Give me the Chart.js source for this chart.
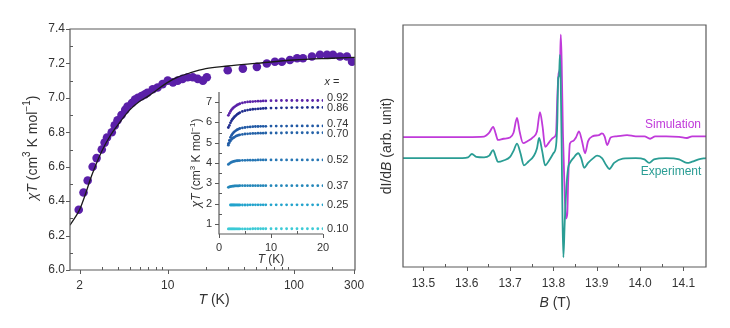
<!DOCTYPE html>
<html>
<head>
<meta charset="utf-8">
<script src="https://cdn.jsdelivr.net/npm/chart.js@4"></script>
<style>
    body { margin: 0; background: #fff; }
    #wrap { position: relative; width: 730px; height: 328px; overflow: hidden; }
    canvas { position: absolute; }
</style>
</head>
<body>
<div id="wrap">
    <canvas id="mainChart" width="365" height="328" style="left:0;top:0"></canvas>
    <canvas id="insetChart" width="190" height="195" style="left:170px;top:75px"></canvas>
    <canvas id="eprChart" width="365" height="328" style="left:365px;top:0"></canvas>
</div>
<script>
// @ts-check

// left panel: chiT vs T (log axis)
const mainT = [1.97, 2.15, 2.32, 2.54, 2.73, 3.0, 3.16, 3.3, 3.6, 3.8, 4.0, 4.3, 4.6, 4.8, 5.2, 5.5, 5.8, 6.2, 6.6, 6.9,
    7.6, 8.3, 9.1, 10, 11, 12, 13.1, 14.4, 15.8, 17.3, 19, 20.4, 29.9, 39.4, 50.9, 61, 70.7, 80.3, 93, 106,
    118, 139, 161, 183, 204, 232, 263, 289];
const mainChiT = [6.35, 6.45, 6.52, 6.6, 6.65, 6.70, 6.74, 6.77, 6.80, 6.84, 6.87, 6.90, 6.93, 6.95, 6.97, 6.99, 7.00, 7.01, 7.02, 7.03,
    7.05, 7.06, 7.08, 7.10, 7.09, 7.10, 7.11, 7.12, 7.12, 7.11, 7.10, 7.12, 7.16, 7.17, 7.18, 7.20, 7.21, 7.21, 7.22, 7.23,
    7.23, 7.24, 7.25, 7.25, 7.25, 7.24, 7.24, 7.21];
const fitT = [1.68, 2, 2.2, 2.5, 3, 3.5, 4, 5, 6, 7, 8, 10, 12, 15, 20, 30, 50, 100, 200, 305];
const fitChiT = [6.26, 6.35, 6.43, 6.55, 6.69, 6.78, 6.84, 6.93, 6.98, 7.01, 7.04, 7.09, 7.12, 7.145, 7.17, 7.185, 7.20, 7.22, 7.23, 7.235];
const mainXTicks = [2, 10, 100, 300];
const mainXMinor = [3, 4, 5, 6, 7, 8, 9, 20, 30, 40, 50, 60, 70, 80, 90, 200];
const mainYTicks = [6.0, 6.2, 6.4, 6.6, 6.8, 7.0, 7.2, 7.4];
const mainYMinor = [6.1, 6.3, 6.5, 6.7, 6.9, 7.1, 7.3];

// inset: chiT vs T for the different x
const insetT = [1.8, 2, 2.2, 2.4, 2.6, 2.8, 3, 3.25, 3.5, 3.75, 4, 4.5, 5, 5.5, 6, 6.5, 7, 7.5, 8, 8.5, 9,
    10, 11, 12, 13, 14, 15, 16, 17, 18, 19, 20];
const insetLabels = ['0.92', '0.86', '0.74', '0.70', '0.52', '0.37', '0.25', '0.10'];
const insetColors = ['#5a22a8', '#1f2d8e', '#1f58a4', '#2462a8', '#2676b4', '#2386b9', '#22a3cc', '#3ccad6'];
const x092 = [6.35, 6.45, 6.54, 6.62, 6.68, 6.73, 6.77, 6.82, 6.86, 6.89, 6.92, 6.96, 6.99, 7.01, 7.02, 7.03, 7.04, 7.05, 7.05, 7.06, 7.06,
    7.07, 7.07, 7.08, 7.08, 7.08, 7.08, 7.08, 7.08, 7.08, 7.08, 7.08];
const x086 = [5.75, 5.85, 5.98, 6.08, 6.16, 6.22, 6.28, 6.34, 6.40, 6.44, 6.48, 6.54, 6.58, 6.61, 6.63, 6.65, 6.66, 6.67, 6.68, 6.69, 6.70,
    6.71, 6.71, 6.72, 6.72, 6.73, 6.73, 6.73, 6.74, 6.74, 6.74, 6.74];
const x074 = [4.95, 5.12, 5.26, 5.36, 5.44, 5.50, 5.55, 5.60, 5.64, 5.67, 5.70, 5.73, 5.75, 5.77, 5.78, 5.79, 5.80, 5.80, 5.81, 5.81, 5.81,
    5.82, 5.82, 5.82, 5.82, 5.83, 5.83, 5.83, 5.83, 5.83, 5.83, 5.83];
const x070 = [4.88, 5.00, 5.09, 5.16, 5.21, 5.25, 5.28, 5.32, 5.35, 5.37, 5.39, 5.41, 5.43, 5.44, 5.45, 5.46, 5.46, 5.47, 5.47, 5.47, 5.48,
    5.48, 5.48, 5.48, 5.49, 5.49, 5.49, 5.49, 5.49, 5.49, 5.49, 5.49];
const x052 = [3.93, 3.97, 4.01, 4.04, 4.06, 4.08, 4.09, 4.10, 4.11, 4.12, 4.12, 4.13, 4.13, 4.14, 4.14, 4.14, 4.14, 4.15, 4.15, 4.15, 4.15,
    4.15, 4.15, 4.15, 4.15, 4.15, 4.15, 4.15, 4.15, 4.15, 4.15, 4.15];
const x037 = [2.80, 2.82, 2.84, 2.85, 2.86, 2.86, 2.87, 2.87, 2.87, 2.87, 2.88, 2.88, 2.88, 2.88, 2.88, 2.88, 2.88, 2.88, 2.88, 2.88, 2.88,
    2.88, 2.88, 2.88, 2.88, 2.88, 2.88, 2.88, 2.88, 2.88, 2.88, 2.88];
const x025 = [null, null, 1.93, 1.93, 1.93, 1.93, 1.93, 1.93, 1.93, 1.93, 1.93, 1.93, 1.93, 1.93, 1.94, 1.94, 1.94, 1.94, 1.94, 1.94, 1.94,
    1.94, 1.94, 1.94, 1.94, 1.94, 1.94, 1.94, 1.94, 1.94, 1.94, 1.94];
const x010 = [0.75, 0.75, 0.75, 0.75, 0.75, 0.75, 0.75, 0.75, 0.75, 0.75, 0.75, 0.75, 0.75, 0.75, 0.75, 0.76, 0.76, 0.76, 0.76, 0.76, 0.76,
    0.76, 0.76, 0.76, 0.76, 0.76, 0.76, 0.76, 0.76, 0.76, 0.76, 0.76];
const insetSeries = [x092, x086, x074, x070, x052, x037, x025, x010];
const insetXTicks = [0, 10, 20];
const insetXMinor = [5, 15];
const insetYTicks = [1, 2, 3, 4, 5, 6, 7];
const insetYMinor = [1.5, 2.5, 3.5, 4.5, 5.5, 6.5];

// right panel: EPR spectra
const simB = [13.453, 13.60, 13.640, 13.652, 13.661, 13.667, 13.672, 13.685, 13.70, 13.708, 13.716, 13.722, 13.730, 13.740, 13.752,
    13.762, 13.769, 13.775, 13.781, 13.790, 13.800, 13.806, 13.809, 13.812, 13.815, 13.817, 13.819, 13.822, 13.826, 13.829,
    13.832, 13.834, 13.838, 13.845, 13.852, 13.859, 13.866, 13.873, 13.880, 13.890, 13.905, 13.912, 13.918, 13.924, 13.932,
    13.945, 13.97, 13.99, 14.01, 14.023, 14.035, 14.06, 14.09, 14.108, 14.12, 14.152];
const simSignal = [53.7, 53.7, 53.9, 55.5, 57.9, 55, 52.5, 53, 53.5, 55.5, 61.6, 56, 51.2, 52, 53.5,
    56, 64, 58, 49.6, 51.5, 53.5, 55, 70, 80, 82, 96, 85, 55, 30, 20,
    22, 35, 51, 52, 53.5, 56, 52, 47, 52, 54, 54.5, 55.2, 54, 50.4, 53.5,
    54, 54.5, 54, 54, 53, 54, 54, 53.8, 53.3, 54, 54];
const expB = [13.453, 13.59, 13.603, 13.612, 13.622, 13.64, 13.652, 13.661, 13.667, 13.672, 13.685, 13.70, 13.708, 13.716, 13.724,
    13.732, 13.742, 13.755, 13.762, 13.767, 13.774, 13.781, 13.79, 13.80, 13.806, 13.809, 13.811, 13.813, 13.815, 13.817,
    13.819, 13.821, 13.823, 13.826, 13.830, 13.834, 13.838, 13.846, 13.857, 13.864, 13.871, 13.880, 13.892, 13.901, 13.912,
    13.922, 13.929, 13.94, 13.96, 13.99, 14.01, 14.021, 14.032, 14.06, 14.09, 14.108, 14.12, 14.135, 14.152];
const expSignal = [45, 45, 45.3, 46.7, 45.5, 45.3, 46, 48.3, 45.5, 43.4, 44, 45.5, 48, 51, 47,
    42, 43.5, 46, 49, 53.3, 48, 42, 44, 47, 50, 60, 78, 79, 87.6, 75,
    50, 20, 4, 18, 33, 41, 43, 45, 47, 45, 41, 43, 45, 46, 45,
    42, 40.5, 43, 44.8, 45, 44.5, 43, 44.5, 45, 44.5, 43, 43.5, 44.5, 45];
const eprXTicks = [13.5, 13.6, 13.7, 13.8, 13.9, 14.0, 14.1];
const eprXMinor = [13.55, 13.65, 13.75, 13.85, 13.95, 14.05];

const FONT = '"Liberation Sans", Arial, sans-serif';
const TEXT = '#333';
const AXIS = '#5a5a5a';
// small vertical nudges (px) so the inset labels do not collide
const insetLabelNudge = [-3, 1, -2, 1, 0, 0, 0, 0];

Chart.defaults.font.family = FONT;
Chart.defaults.color = TEXT;


/**
 * Checks whether the passed ID exists and returns the element.
 * @param {string} id
 * @returns {HTMLCanvasElement}
 */
function getElementById(id) {
    const element = document.getElementById(id);
    if (!element) {
        throw new Error(`Element with id ${id} not found!`);
    }
    return /** @type {HTMLCanvasElement} */ (element);
}


/**
 * Draws a centred line of text made of parts (italic / superscript)
 * @param {CanvasRenderingContext2D} ctx
 * @param {Array<{t: string, i?: boolean, sup?: boolean}>} parts
 * @param {number} x
 * @param {number} y
 * @param {number} size
 * @param {boolean} rotate
 * @param {string} color
 */
function drawRich(ctx, parts, x, y, size, rotate, color) {
    const fonts = parts.map((p) => `${p.i ? 'italic ' : ''}${p.sup ? Math.round(size * 0.68) : size}px ${FONT}`);
    ctx.save();
    ctx.translate(x, y);
    if (rotate) ctx.rotate(-Math.PI / 2);
    let width = 0;
    parts.forEach((p, k) => { ctx.font = fonts[k]; width += ctx.measureText(p.t).width; });
    let cx = -width / 2;
    ctx.textBaseline = 'middle';
    ctx.textAlign = 'left';
    ctx.fillStyle = color;
    parts.forEach((p, k) => {
        ctx.font = fonts[k];
        ctx.fillText(p.t, cx, p.sup ? -size * 0.38 : 0);
        cx += ctx.measureText(p.t).width;
    });
    ctx.restore();
}


/**
 * Plugin that draws the axis frame, the tick marks and the axis titles
 * @param {Object} spec
 */
function makeFrame(spec) {
    return {
        id: 'frame',
        afterDatasetsDraw(chart) {
            const { ctx, chartArea: a, scales } = chart;
            ctx.save();
            ctx.strokeStyle = AXIS;
            ctx.lineWidth = 1.2;
            ctx.beginPath();
            if (spec.box) {
                ctx.rect(a.left, a.top, a.right - a.left, a.bottom - a.top);
            } else {
                ctx.moveTo(a.left, a.top);
                ctx.lineTo(a.left, a.bottom);
                ctx.lineTo(a.right, a.bottom);
            }
            ctx.stroke();
            ctx.lineWidth = 1;
            ctx.beginPath();
            for (const v of spec.xMajor || []) {
                const px = Math.round(scales.x.getPixelForValue(v)) + 0.5;
                ctx.moveTo(px, a.bottom);
                ctx.lineTo(px, a.bottom + 4);
            }
            for (const v of spec.xMinor || []) {
                const px = Math.round(scales.x.getPixelForValue(v)) + 0.5;
                ctx.moveTo(px, a.bottom);
                ctx.lineTo(px, a.bottom - 3);
            }
            for (const v of spec.yMajor || []) {
                const py = Math.round(scales.y.getPixelForValue(v)) + 0.5;
                ctx.moveTo(a.left, py);
                ctx.lineTo(a.left - 4, py);
            }
            for (const v of spec.yMinor || []) {
                const py = Math.round(scales.y.getPixelForValue(v)) + 0.5;
                ctx.moveTo(a.left, py);
                ctx.lineTo(a.left + 3, py);
            }
            ctx.stroke();
            ctx.restore();
        },
        afterDraw(chart) {
            const { ctx } = chart;
            for (const title of spec.titles) {
                drawRich(ctx, title.parts, title.x, title.y, title.size, !!title.rotate, title.color || TEXT);
            }
            if (spec.afterDraw) spec.afterDraw(chart);
        }
    };
}


/**
 * Fixed axis box sizes so the plot area sits where it should
 * @param {number} size
 */
function fixWidth(size) {
    return (scale) => { scale.width = size; };
}
function fixHeight(size) {
    return (scale) => { scale.height = size; };
}
function setTicks(values) {
    return (scale) => { scale.ticks = values.map((value) => ({ value })); };
}

const chiLabel = [{ t: 'χ', i: true }, { t: 'T', i: true }, { t: ' (cm' }, { t: '3', sup: true }, { t: ' K mol' }, { t: '−1', sup: true }, { t: ')' }];


/**
 * Left panel: chiT on a log temperature axis with the fitted curve
 */
function renderMain() {
    const frame = makeFrame({
        box: true,
        xMajor: mainXTicks, xMinor: mainXMinor, yMajor: mainYTicks, yMinor: mainYMinor,
        titles: [
            { parts: chiLabel, x: 33, y: 148, size: 14, rotate: true },
            { parts: [{ t: 'T', i: true }, { t: ' (K)' }], x: 214, y: 300, size: 14 }
        ]
    });
    new Chart(getElementById('mainChart'), {
        type: 'scatter',
        data: {
            datasets: [{
                type: 'line',
                data: fitT.map((t, k) => ({ x: t, y: fitChiT[k] })),
                borderColor: '#1a1a1a',
                borderWidth: 1.3,
                pointRadius: 0,
                cubicInterpolationMode: 'monotone'
            }, {
                data: mainT.map((t, k) => ({ x: t, y: mainChiT[k] })),
                backgroundColor: '#5a1fa8',
                borderWidth: 0,
                pointRadius: 4.3
            }]
        },
        options: {
            responsive: false,
            animation: false,
            devicePixelRatio: 1,
            events: [],
            layout: { padding: { left: 0, right: 10, top: 29, bottom: 0 } },
            plugins: { legend: { display: false }, tooltip: { enabled: false } },
            scales: {
                x: {
                    type: 'logarithmic', min: 1.68, max: 305,
                    afterBuildTicks: setTicks(mainXTicks),
                    afterFit: fixHeight(58),
                    grid: { display: false, tickLength: 8 },
                    border: { display: false },
                    ticks: { padding: 0, font: { size: 12 }, maxRotation: 0, autoSkip: false, callback: (v) => String(v) }
                },
                y: {
                    min: 6.0, max: 7.4,
                    afterBuildTicks: setTicks(mainYTicks),
                    afterFit: fixWidth(70),
                    grid: { display: false, tickLength: 5 },
                    border: { display: false },
                    ticks: { padding: 0, font: { size: 12 }, callback: (v) => Number(v).toFixed(1) }
                }
            }
        },
        plugins: [frame]
    });
}


/**
 * Inset: chiT vs T for all compositions with the x labels on the right
 */
function renderInset() {
    const frame = makeFrame({
        box: false,
        xMajor: insetXTicks, xMinor: insetXMinor, yMajor: insetYTicks, yMinor: insetYMinor,
        titles: [
            { parts: chiLabel, x: 27, y: 88, size: 12, rotate: true },
            { parts: [{ t: 'T', i: true }, { t: ' (K)' }], x: 101, y: 185, size: 12 },
            { parts: [{ t: 'x', i: true }, { t: ' =' }], x: 162, y: 7, size: 11 }
        ],
        afterDraw(chart) {
            const { ctx, chartArea, scales } = chart;
            ctx.save();
            ctx.font = `11px ${FONT}`;
            ctx.fillStyle = TEXT;
            ctx.textBaseline = 'middle';
            insetSeries.forEach((series, k) => {
                const last = series[series.length - 1];
                ctx.fillText(insetLabels[k], chartArea.right + 4, scales.y.getPixelForValue(last) + insetLabelNudge[k]);
            });
            ctx.restore();
        }
    });
    new Chart(getElementById('insetChart'), {
        type: 'scatter',
        data: {
            datasets: insetSeries.map((series, k) => ({
                data: insetT.map((t, j) => ({ x: t, y: series[j] })),
                backgroundColor: insetColors[k],
                borderWidth: 0,
                pointRadius: 1.4
            }))
        },
        options: {
            responsive: false,
            animation: false,
            devicePixelRatio: 1,
            events: [],
            layout: { padding: { left: 0, right: 37, top: 17, bottom: 0 } },
            plugins: { legend: { display: false }, tooltip: { enabled: false } },
            scales: {
                x: {
                    min: 0, max: 20,
                    afterBuildTicks: setTicks(insetXTicks),
                    afterFit: fixHeight(36),
                    grid: { display: false, tickLength: 7 },
                    border: { display: false },
                    ticks: { padding: 0, font: { size: 11 }, maxRotation: 0 }
                },
                y: {
                    min: 0.5, max: 7.5,
                    afterBuildTicks: setTicks(insetYTicks),
                    afterFit: fixWidth(49),
                    grid: { display: false, tickLength: 7 },
                    border: { display: false },
                    ticks: { padding: 0, font: { size: 11 } }
                }
            }
        },
        plugins: [frame]
    });
}


/**
 * Right panel: simulated and measured EPR derivative spectra
 */
function renderEpr() {
    const frame = makeFrame({
        box: true,
        xMajor: eprXTicks, xMinor: eprXMinor,
        titles: [
            { parts: [{ t: 'dI/d' }, { t: 'B', i: true }, { t: ' (arb. unit)' }], x: 22, y: 146, size: 14, rotate: true },
            { parts: [{ t: 'B', i: true }, { t: ' (T)' }], x: 190, y: 303, size: 14 },
            { parts: [{ t: 'Simulation' }], x: 308, y: 125, size: 12, color: '#c03ada' },
            { parts: [{ t: 'Experiment' }], x: 306, y: 172, size: 12, color: '#2a9d94' }
        ]
    });
    new Chart(getElementById('eprChart'), {
        type: 'line',
        data: {
            datasets: [{
                data: expB.map((b, k) => ({ x: b, y: expSignal[k] })),
                borderColor: '#2a9d94',
                borderWidth: 1.8,
                pointRadius: 0,
                cubicInterpolationMode: 'monotone'
            }, {
                data: simB.map((b, k) => ({ x: b, y: simSignal[k] })),
                borderColor: '#c03ada',
                borderWidth: 1.8,
                pointRadius: 0,
                cubicInterpolationMode: 'monotone'
            }]
        },
        options: {
            responsive: false,
            animation: false,
            devicePixelRatio: 1,
            events: [],
            layout: { padding: { left: 0, right: 24, top: 25, bottom: 0 } },
            plugins: { legend: { display: false }, tooltip: { enabled: false } },
            scales: {
                x: {
                    type: 'linear', min: 13.453, max: 14.152,
                    afterBuildTicks: setTicks(eprXTicks),
                    afterFit: fixHeight(61),
                    grid: { display: false, tickLength: 9 },
                    border: { display: false },
                    ticks: { padding: 0, font: { size: 12 }, maxRotation: 0, callback: (v) => Number(v).toFixed(1) }
                },
                y: {
                    min: 0, max: 100,
                    afterFit: fixWidth(38),
                    grid: { display: false },
                    border: { display: false },
                    ticks: { display: false }
                }
            }
        },
        plugins: [frame]
    });
}

function init() {
    renderMain();
    renderInset();
    renderEpr();
}

init();
</script>
</body>
</html>
